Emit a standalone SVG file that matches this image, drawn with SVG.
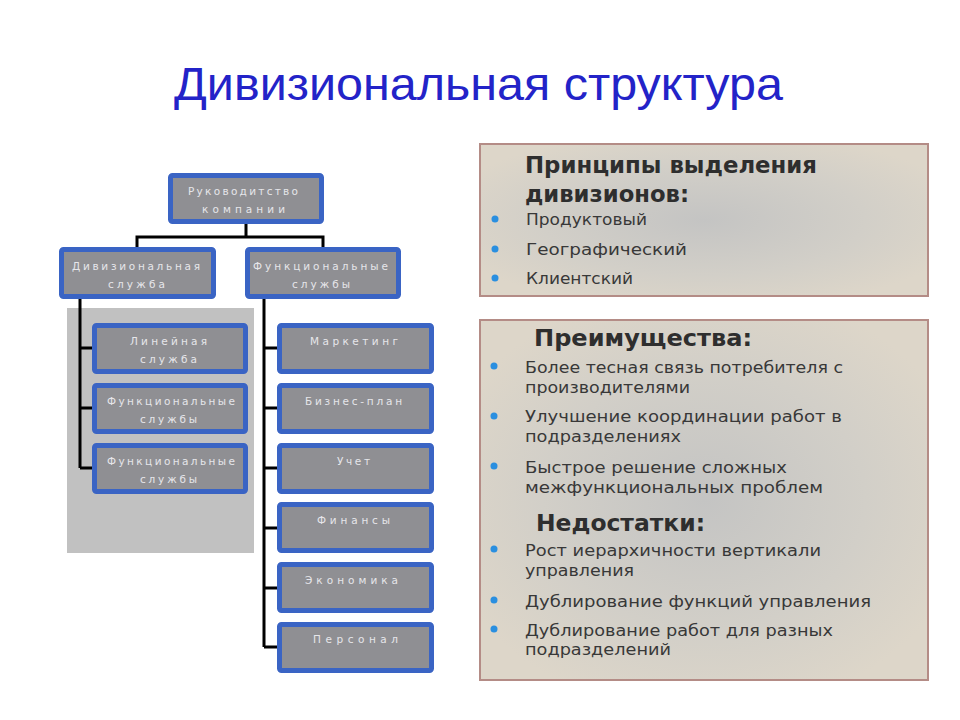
<svg xmlns="http://www.w3.org/2000/svg" width="960" height="720" viewBox="0 0 960 720">
<defs>
<radialGradient id="pg" cx="0.5" cy="0.5" r="0.6">
<stop offset="0" stop-color="#c4c4c3"/>
<stop offset="0.6" stop-color="#d2cfc8"/>
<stop offset="1" stop-color="#ddd6c9"/>
</radialGradient>
<style>
.box{fill:#8f8f93;stroke:#3a64c4;stroke-width:5}
.bt{font-family:"DejaVu Sans",sans-serif;font-size:10.5px;fill:#e6e6ea;text-anchor:start}
.ln{stroke:#000;stroke-width:3;fill:none}
.panel{fill:url(#pg);stroke:#b48c86;stroke-width:2}
.hd{font-family:"DejaVu Sans",sans-serif;font-weight:bold;font-size:23px;fill:#2e2e2e}
.tx{font-family:"DejaVu Sans",sans-serif;font-size:16.5px;fill:#383838}
.bl{fill:#2a8fe0}
</style>
</defs>
<rect width="960" height="720" fill="#fff"/>
<text x="174" y="100" font-family="Liberation Sans, sans-serif" font-size="46" fill="#2323c8" textLength="609" lengthAdjust="spacingAndGlyphs">Дивизиональная структура</text>

<rect x="67" y="308" width="187" height="245" fill="#c1c1c1"/>

<g id="connectors">
<path class="ln" d="M246 224V237M137 247V237H323V247"/>
<path class="ln" d="M80 299V468M80 348H92M80 408H92M80 468H92"/>
<path class="ln" d="M264 299V647M264 348H277M264 408H277M264 468H277M264 528H277M264 588H277M264 647H277"/>
</g>

<g id="n-top"><rect class="box" x="170.5" y="175.5" width="151" height="46" rx="2"/>
<text class="bt" x="188" y="195" textLength="110" lengthAdjust="spacing">Руководитство</text>
<text class="bt" x="202" y="213" textLength="83" lengthAdjust="spacing">компании</text></g>

<g id="n-div"><rect class="box" x="61.5" y="249.5" width="152" height="47" rx="2"/>
<text class="bt" x="72" y="270" textLength="128" lengthAdjust="spacing">Дивизиональная</text>
<text class="bt" x="108" y="288" textLength="57" lengthAdjust="spacing">служба</text></g>

<g id="n-fun"><rect class="box" x="247.5" y="249.5" width="151" height="47" rx="2"/>
<text class="bt" x="253" y="270" textLength="135" lengthAdjust="spacing">Функциональные</text>
<text class="bt" x="292" y="288" textLength="58" lengthAdjust="spacing">службы</text></g>

<g id="n-lin"><rect class="box" x="94.5" y="325.5" width="151" height="46" rx="2"/>
<text class="bt" x="130" y="345" textLength="77" lengthAdjust="spacing">Линейная</text>
<text class="bt" x="140" y="363" textLength="57" lengthAdjust="spacing">служба</text></g>

<g id="n-lf1"><rect class="box" x="94.5" y="385.5" width="151" height="46" rx="2"/>
<text class="bt" x="107" y="405" textLength="128" lengthAdjust="spacing">Функциональные</text>
<text class="bt" x="140" y="423" textLength="57" lengthAdjust="spacing">службы</text></g>

<g id="n-lf2"><rect class="box" x="94.5" y="445.5" width="151" height="46" rx="2"/>
<text class="bt" x="107" y="465" textLength="128" lengthAdjust="spacing">Функциональные</text>
<text class="bt" x="140" y="483" textLength="57" lengthAdjust="spacing">службы</text></g>

<g id="n-mkt"><rect class="box" x="279.5" y="325.5" width="152" height="46" rx="2"/>
<text class="bt" x="310" y="345" textLength="88" lengthAdjust="spacing">Маркетинг</text></g>

<g id="n-biz"><rect class="box" x="279.5" y="385.5" width="152" height="46" rx="2"/>
<text class="bt" x="305" y="405" textLength="97" lengthAdjust="spacing">Бизнес-план</text></g>

<g id="n-uch"><rect class="box" x="279.5" y="445.5" width="152" height="46" rx="2"/>
<text class="bt" x="337" y="465" textLength="33" lengthAdjust="spacing">Учет</text></g>

<g id="n-fin"><rect class="box" x="279.5" y="504.5" width="152" height="46" rx="2"/>
<text class="bt" x="317" y="524" textLength="73" lengthAdjust="spacing">Финансы</text></g>

<g id="n-eco"><rect class="box" x="279.5" y="564.5" width="152" height="46" rx="2"/>
<text class="bt" x="305" y="584" textLength="93" lengthAdjust="spacing">Экономика</text></g>

<g id="n-per"><rect class="box" x="279.5" y="624.5" width="152" height="46" rx="2"/>
<text class="bt" x="313" y="643" textLength="85" lengthAdjust="spacing">Персонал</text></g>

<g id="p-principles">
<rect class="panel" x="480" y="144" width="448" height="152"/>
<text class="hd" x="525" y="173" textLength="292" lengthAdjust="spacingAndGlyphs">Принципы выделения</text>
<text class="hd" x="525" y="202" textLength="164" lengthAdjust="spacingAndGlyphs">дивизионов:</text>
<circle class="bl" cx="495" cy="219" r="3.5"/>
<text class="tx" x="526" y="225" textLength="121" lengthAdjust="spacingAndGlyphs">Продуктовый</text>
<circle class="bl" cx="495" cy="249" r="3.5"/>
<text class="tx" x="526" y="255" textLength="161" lengthAdjust="spacingAndGlyphs">Географический</text>
<circle class="bl" cx="495" cy="278" r="3.5"/>
<text class="tx" x="526" y="284" textLength="107" lengthAdjust="spacingAndGlyphs">Клиентский</text>
</g>

<g id="p-pros">
<rect class="panel" x="480" y="320" width="448" height="360"/>
<text class="hd" x="534" y="346" textLength="218" lengthAdjust="spacingAndGlyphs">Преимущества:</text>
<circle class="bl" cx="494" cy="366" r="3.5"/>
<text class="tx" x="525" y="373" textLength="318" lengthAdjust="spacingAndGlyphs">Более тесная связь потребителя с</text>
<text class="tx" x="525" y="393" textLength="165" lengthAdjust="spacingAndGlyphs">производителями</text>
<circle class="bl" cx="494" cy="416" r="3.5"/>
<text class="tx" x="525" y="422" textLength="317" lengthAdjust="spacingAndGlyphs">Улучшение координации работ в</text>
<text class="tx" x="525" y="442" textLength="156" lengthAdjust="spacingAndGlyphs">подразделениях</text>
<circle class="bl" cx="494" cy="466" r="3.5"/>
<text class="tx" x="525" y="473" textLength="262" lengthAdjust="spacingAndGlyphs">Быстрое решение сложных</text>
<text class="tx" x="525" y="493" textLength="298" lengthAdjust="spacingAndGlyphs">межфункциональных проблем</text>
<text class="hd" x="536" y="531" textLength="169" lengthAdjust="spacingAndGlyphs">Недостатки:</text>
<circle class="bl" cx="494" cy="549" r="3.5"/>
<text class="tx" x="525" y="556" textLength="296" lengthAdjust="spacingAndGlyphs">Рост иерархичности вертикали</text>
<text class="tx" x="525" y="576" textLength="109" lengthAdjust="spacingAndGlyphs">управления</text>
<circle class="bl" cx="494" cy="600" r="3.5"/>
<text class="tx" x="525" y="607" textLength="346" lengthAdjust="spacingAndGlyphs">Дублирование функций управления</text>
<circle class="bl" cx="494" cy="629" r="3.5"/>
<text class="tx" x="525" y="636" textLength="308" lengthAdjust="spacingAndGlyphs">Дублирование работ для разных</text>
<text class="tx" x="525" y="655" textLength="146" lengthAdjust="spacingAndGlyphs">подразделений</text>
</g>
</svg>
